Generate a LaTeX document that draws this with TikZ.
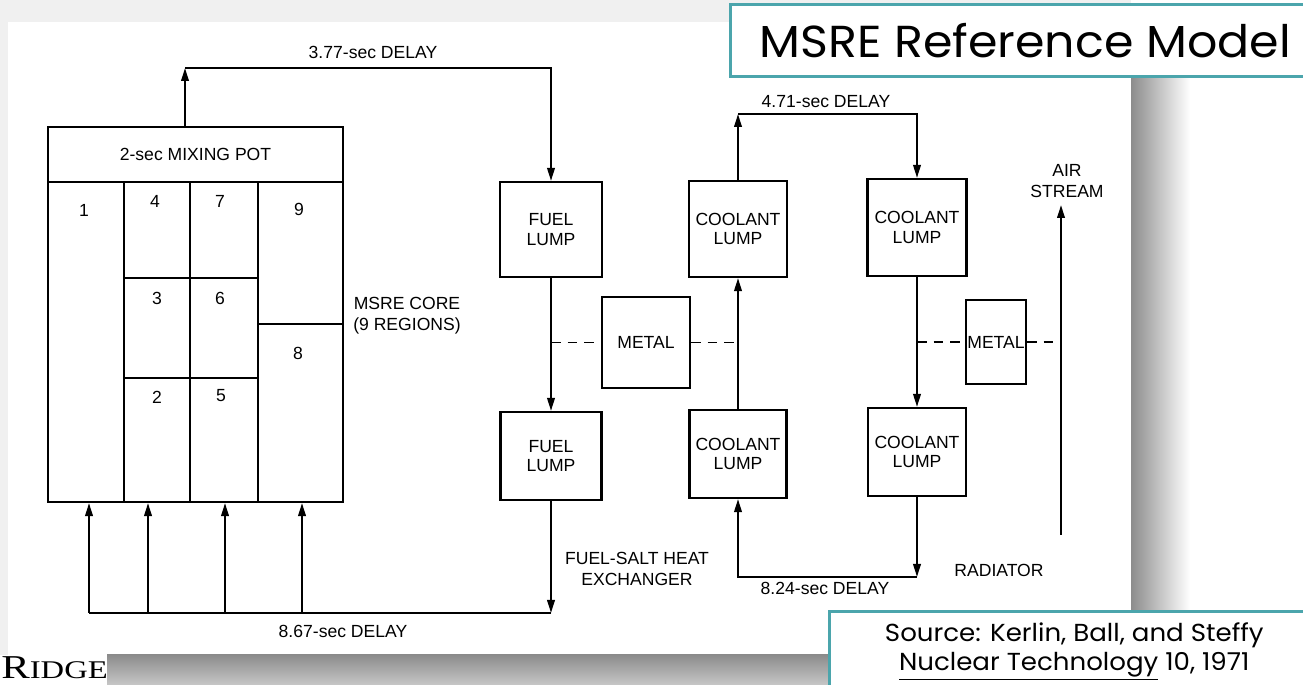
\documentclass[tikz,border=0pt]{standalone}
\usepackage{fontspec}
\newfontfamily\lumpfont{Liberation Sans}
\newfontfamily\slidefont{Poppins}[FakeStretch=1.06]
\newfontfamily\logofont{Liberation Serif}
\usetikzlibrary{arrows.meta,positioning}
\definecolor{msteal}{RGB}{75,165,172}
\definecolor{shadegray}{RGB}{140,140,140}
\tikzset{
    lump/.style={
        draw=black,line width=1.2pt,align=center,inner sep=0pt,
        font=\lumpfont\fontsize{10}{11}\selectfont
    },
    lbl/.style={align=center,inner sep=0pt,font=\lumpfont\fontsize{10}{12}\selectfont},
    flow/.style={-{Triangle[length=2.6mm,width=1.5mm]},line width=1.2pt},
    pipe/.style={line width=1.2pt},
    heat/.style={line width=0.9pt,dash pattern=on 5.5pt off 4pt},
    slidebox/.style={draw=msteal,line width=1.5pt,fill=white,inner sep=0pt}
}

\begin{document}
\begin{tikzpicture}[x=0.02cm,y=-0.02cm]
\useasboundingbox (0,0) rectangle (1303,685);

% slide background and shadows
\fill[black!6] (0,0) rectangle (1131,655);
\fill[white] (8,22) rectangle (1131,655);
\shade[left color=shadegray,right color=white] (1131,75) rectangle (1190,655);
\shade[top color=shadegray,bottom color=black!22] (107,655) rectangle (1303,685);

% reactor core
\node[lump,minimum width=5.9cm,minimum height=1.1cm] (pot) at (195.5,154.5) {2-sec MIXING POT};
\node[lump,minimum width=5.9cm,minimum height=6.4cm] (core) at (195.5,342) {};
\draw[pipe] (124,182) -- (124,502) (190,182) -- (190,502) (258,182) -- (258,502);
\draw[pipe] (124,278) -- (258,278) (124,378) -- (258,378) (258,324) -- (343,324);
\foreach \n/\x/\y in {1/84/210,4/155/201,7/220/201,9/299/209,3/157/298,6/220/298,8/298/353,2/157/397,5/221/396}
    \node[lbl] (r\n) at (\x,\y) {\n};
\node[lbl] (corelbl) at (407,316) {MSRE CORE\\(9 REGIONS)};

% lumps
\node[lump,minimum width=2.04cm,minimum height=1.9cm] (fuel1) at (551,229.5) {FUEL\\LUMP};
\node[lump,minimum width=2.02cm,minimum height=1.76cm] (fuel2) at (551,456) {FUEL\\LUMP};
\node[lump,minimum width=1.76cm,minimum height=1.82cm] (metal1) at (646,342.5) {METAL};
\node[lump,minimum width=1.96cm,minimum height=1.92cm] (cl1) at (738,229) {COOLANT\\LUMP};
\node[lump,minimum width=1.94cm,minimum height=1.76cm] (cl2) at (738,454) {COOLANT\\LUMP};
\node[lump,minimum width=1.98cm,minimum height=1.94cm] (cl3) at (917,227.5) {COOLANT\\LUMP};
\node[lump,minimum width=1.96cm,minimum height=1.76cm] (cl4) at (917,452) {COOLANT\\LUMP};
\node[lump,minimum width=1.2cm,minimum height=1.68cm] (metal2) at (996,342) {METAL};

% fuel loop
\coordinate (potup) at (185,68);
\draw[flow] (pot.north -| potup) -- (potup);
\draw[flow] (potup) -| (fuel1.north);
\draw[flow] (fuel1) -- (fuel2);
\coordinate (fueldown) at (551,613);
\draw[flow] (fuel2.south) -- (fueldown);
\foreach \i/\x in {1/89,2/148,3/225,4/302}{
    \coordinate (ret\i) at (\x,613);
    \draw[flow] (ret\i) -- (ret\i |- core.south);
}
\draw[pipe] (fueldown) -- (ret1);

% coolant loop
\draw[flow] (cl2) -- (cl1);
\coordinate (clup) at (738,114);
\draw[flow] (cl1.north) -- (clup);
\draw[flow] (clup) -| (cl3.north);
\draw[flow] (cl3) -- (cl4);
\coordinate (cldown) at (917,577);
\draw[flow] (cl4.south) -- (cldown);
\draw[flow] (cldown) -| (cl2.south);

% air side
\coordinate (airlow) at (1061,535);
\coordinate (airhigh) at (1061,205);
\draw[flow] (airlow) -- (airhigh);

% heat transfer
\draw[heat] (fuel1 |- metal1.west) -- (metal1.west);
\draw[heat] (metal1.east) -- (cl1 |- metal1.east);
\draw[heat] (cl3 |- metal2.west) -- (metal2.west);
\draw[heat] (metal2.east) -- (airlow |- metal2.east);

% delays and labels
\node[lbl] (d377) at (373,52) {3.77-sec DELAY};
\node[lbl] (d471) at (826,102) {4.71-sec DELAY};
\node[lbl] (d867) at (343,631) {8.67-sec DELAY};
\node[lbl] (d824) at (825,588) {8.24-sec DELAY};
\node[lbl] (hx) at (637,569) {FUEL-SALT HEAT\\EXCHANGER};
\node[lbl] (rad) at (999,570) {RADIATOR};
\node[lbl] (air) at (1067,181) {AIR\\STREAM};

% slide boxes
\node[slidebox,minimum width=11.8cm,minimum height=1.44cm,anchor=north west,
    font=\slidefont\fontsize{25.5}{28}\selectfont] (title) at (729,3) {MSRE Reference Model};
\node[slidebox,minimum width=9.8cm,minimum height=1.6cm,anchor=north west,align=center,
    font=\slidefont\fontsize{14}{16.5}\selectfont] (source) at (828,610)
    {Source: Kerlin, Ball, and Steffy\\\underline{Nuclear Technology} 10, 1971};
\node[anchor=base west,inner sep=0pt] (logo) at (1,679)
    {\scalebox{1.28}[1]{\logofont\fontsize{19}{19}\selectfont R\fontsize{14.5}{15}\selectfont IDGE}};

\end{tikzpicture}
\end{document}
